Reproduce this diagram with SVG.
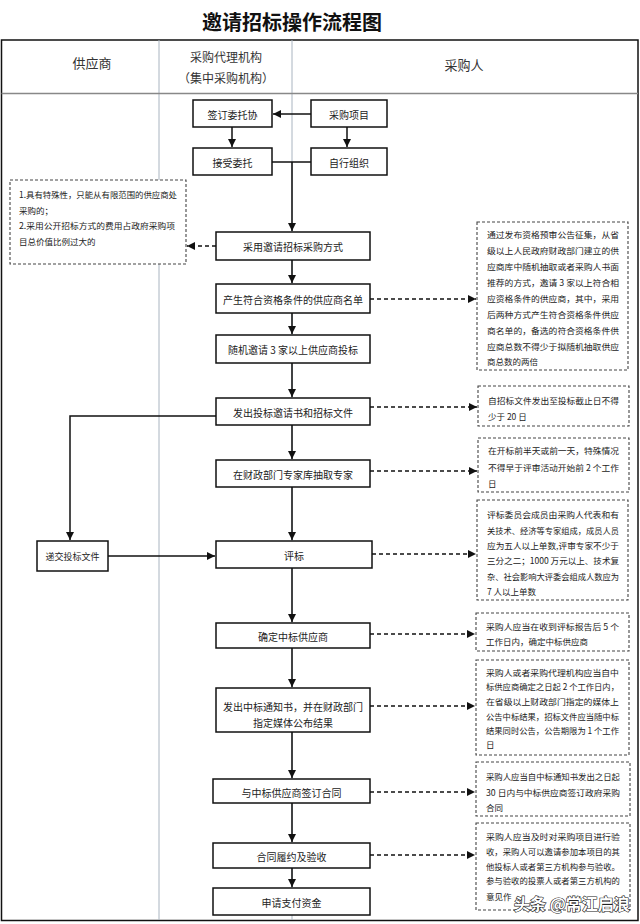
<svg xmlns="http://www.w3.org/2000/svg" width="640" height="924" viewBox="0 0 640 924">
<defs>
<style>
text{font-family:"Noto Sans CJK SC","Noto Sans",sans-serif;fill:#222}
.t{font-size:10px;text-anchor:middle;dominant-baseline:central}
.n{font-size:8.5px}
.h{font-size:13px;text-anchor:middle;dominant-baseline:central;fill:#333}
.box{fill:#fff;stroke:#111;stroke-width:1.5}
.note{fill:#fff;stroke:#444;stroke-width:1.1;stroke-dasharray:3 2}
.c{fill:none;stroke:#111;stroke-width:1.5}
.d{fill:none;stroke:#111;stroke-width:1.3;stroke-dasharray:4 3}
.div{stroke:#a9b4c0;stroke-width:1}
</style>
<marker id="a" viewBox="0 0 10 10" refX="10" refY="5" markerWidth="8" markerHeight="8" markerUnits="userSpaceOnUse" orient="auto"><path d="M0,0L10,5L0,10z" fill="#111"/></marker>
</defs>
<rect width="640" height="924" fill="#fff"/>
<text x="292" y="21" style="font-size:20px;font-weight:bold;text-anchor:middle;dominant-baseline:central;fill:#111">邀请招标操作流程图</text>
<g id="lanes">
<rect x="1.5" y="40" width="636.5" height="880.5" fill="none" stroke="#111" stroke-width="1.5"/>
<line class="div" x1="159" y1="40" x2="159" y2="920"/>
<line class="div" x1="292" y1="40" x2="292" y2="920"/>
<line x1="1.5" y1="93.5" x2="638" y2="93.5" stroke="#888" stroke-width="1.5"/>
<text class="h" x="92" y="62">供应商</text>
<text class="h" x="226" y="56" style="font-size:12px">采购代理机构</text>
<text class="h" x="226" y="77" style="font-size:12px">（集中采购机构）</text>
<text class="h" x="464" y="64">采购人</text>
</g>
<g id="connectors">
<line class="c" x1="311" y1="114" x2="273" y2="114" marker-end="url(#a)"/>
<line class="c" x1="232" y1="127" x2="232" y2="147" marker-end="url(#a)"/>
<line class="c" x1="347" y1="127" x2="347" y2="147" marker-end="url(#a)"/>
<line class="c" x1="272" y1="162" x2="311" y2="162"/>
<line class="c" x1="292" y1="162" x2="292" y2="231" marker-end="url(#a)"/>
<line class="c" x1="292" y1="260" x2="292" y2="283" marker-end="url(#a)"/>
<line class="c" x1="292" y1="313" x2="292" y2="334" marker-end="url(#a)"/>
<line class="c" x1="292" y1="363" x2="292" y2="397" marker-end="url(#a)"/>
<line class="c" x1="292" y1="425" x2="292" y2="459" marker-end="url(#a)"/>
<line class="c" x1="292" y1="487" x2="292" y2="540" marker-end="url(#a)"/>
<line class="c" x1="292" y1="568" x2="292" y2="622" marker-end="url(#a)"/>
<line class="c" x1="292" y1="648" x2="292" y2="687" marker-end="url(#a)"/>
<line class="c" x1="292" y1="732" x2="292" y2="778" marker-end="url(#a)"/>
<line class="c" x1="292" y1="803" x2="292" y2="842" marker-end="url(#a)"/>
<line class="c" x1="292" y1="868" x2="292" y2="887" marker-end="url(#a)"/>
<polyline class="c" points="216,416 70,416 70,540" marker-end="url(#a)"/>
<line class="c" x1="108" y1="556" x2="215" y2="556" marker-end="url(#a)"/>
<line class="d" x1="216" y1="246" x2="187" y2="246" marker-end="url(#a)"/>
<line class="d" x1="370" y1="299" x2="476" y2="299" marker-end="url(#a)"/>
<line class="d" x1="370" y1="407" x2="477" y2="407" marker-end="url(#a)"/>
<line class="d" x1="370" y1="471" x2="477" y2="471" marker-end="url(#a)"/>
<line class="d" x1="372" y1="554" x2="476" y2="554" marker-end="url(#a)"/>
<line class="d" x1="370" y1="634" x2="475" y2="634" marker-end="url(#a)"/>
<line class="d" x1="370" y1="706" x2="475" y2="706" marker-end="url(#a)"/>
<line class="d" x1="370" y1="792" x2="475" y2="792" marker-end="url(#a)"/>
<line class="d" x1="370" y1="855" x2="475" y2="855" marker-end="url(#a)"/>
</g>
<g id="n1"><rect class="box" x="193" y="100" width="79" height="27"/><text class="t" x="232.5" y="114">签订委托协</text></g>
<g id="n2"><rect class="box" x="311" y="100" width="76" height="27"/><text class="t" x="349" y="114">采购项目</text></g>
<g id="n3"><rect class="box" x="193" y="148" width="79" height="27"/><text class="t" x="232.5" y="162">接受委托</text></g>
<g id="n4"><rect class="box" x="311" y="148" width="76" height="27"/><text class="t" x="349" y="162">自行组织</text></g>
<g id="n5"><rect class="box" x="216" y="232" width="154" height="28"/><text class="t" x="293" y="246">采用邀请招标采购方式</text></g>
<g id="n6"><rect class="box" x="216" y="284" width="154" height="29"/><text class="t" x="293" y="299">产生符合资格条件的供应商名单</text></g>
<g id="n7"><rect class="box" x="216" y="335" width="154" height="28"/><text class="t" x="293" y="349">随机邀请 3 家以上供应商投标</text></g>
<g id="n8"><rect class="box" x="216" y="398" width="154" height="27"/><text class="t" x="293" y="412">发出投标邀请书和招标文件</text></g>
<g id="n9"><rect class="box" x="216" y="460" width="154" height="27"/><text class="t" x="293" y="474">在财政部门专家库抽取专家</text></g>
<g id="n10"><rect class="box" x="216" y="541" width="156" height="27"/><text class="t" x="294" y="555">评标</text></g>
<g id="n11"><rect class="box" x="37" y="541" width="71" height="30"/><text class="t" x="72.5" y="556" style="font-size:9px">递交投标文件</text></g>
<g id="n12"><rect class="box" x="216" y="623" width="154" height="25"/><text class="t" x="293" y="636">确定中标供应商</text></g>
<g id="n13"><rect class="box" x="216" y="688" width="154" height="44"/><text class="t" x="293" y="706">发出中标通知书，并在财政部门</text><text class="t" x="293" y="722">指定媒体公布结果</text></g>
<g id="n14"><rect class="box" x="213" y="779" width="157" height="24"/><text class="t" x="291.5" y="792">与中标供应商签订合同</text></g>
<g id="n15"><rect class="box" x="213" y="843" width="157" height="25"/><text class="t" x="291.5" y="856">合同履约及验收</text></g>
<g id="n16"><rect class="box" x="213" y="888" width="157" height="27"/><text class="t" x="291.5" y="902">申请支付资金</text></g>
<g id="note-left"><rect class="note" x="10" y="180" width="176" height="84"/>
<text class="n" x="19" y="198" textLength="158" lengthAdjust="spacingAndGlyphs">1.具有特殊性，只能从有限范围的供应商处</text>
<text class="n" x="19" y="214">采购的；</text>
<text class="n" x="19" y="229" textLength="156" lengthAdjust="spacingAndGlyphs">2.采用公开招标方式的费用占政府采购项</text>
<text class="n" x="19" y="245">目总价值比例过大的</text></g>
<g id="note1"><rect class="note" x="477" y="222" width="151" height="148"/>
<text class="n" x="487" y="238" textLength="132" lengthAdjust="spacingAndGlyphs">通过发布资格预审公告征集，从省</text>
<text class="n" x="487" y="254" textLength="132" lengthAdjust="spacingAndGlyphs">级以上人民政府财政部门建立的供</text>
<text class="n" x="487" y="270" textLength="132" lengthAdjust="spacingAndGlyphs">应商库中随机抽取或者采购人书面</text>
<text class="n" x="487" y="286" textLength="132" lengthAdjust="spacingAndGlyphs">推荐的方式，邀请 3 家以上符合相</text>
<text class="n" x="487" y="302" textLength="132" lengthAdjust="spacingAndGlyphs">应资格条件的供应商，其中，采用</text>
<text class="n" x="487" y="318" textLength="132" lengthAdjust="spacingAndGlyphs">后两种方式产生符合资格条件供应</text>
<text class="n" x="487" y="334" textLength="132" lengthAdjust="spacingAndGlyphs">商名单的，备选的符合资格条件供</text>
<text class="n" x="487" y="350" textLength="132" lengthAdjust="spacingAndGlyphs">应商总数不得少于拟随机抽取供应</text>
<text class="n" x="487" y="365">商总数的两倍</text></g>
<g id="note2"><rect class="note" x="478" y="386" width="151" height="40"/>
<text class="n" x="488" y="404" textLength="131" lengthAdjust="spacingAndGlyphs">自招标文件发出至投标截止日不得</text>
<text class="n" x="488" y="420">少于 20 日</text></g>
<g id="note3"><rect class="note" x="478" y="438" width="151" height="54"/>
<text class="n" x="488" y="454" textLength="131" lengthAdjust="spacingAndGlyphs">在开标前半天或前一天，特殊情况</text>
<text class="n" x="488" y="471" textLength="131" lengthAdjust="spacingAndGlyphs">不得早于评审活动开始前 2 个工作</text>
<text class="n" x="488" y="487">日</text></g>
<g id="note4"><rect class="note" x="477" y="500" width="151" height="100"/>
<text class="n" x="487" y="518" textLength="132" lengthAdjust="spacingAndGlyphs">评标委员会成员由采购人代表和有</text>
<text class="n" x="487" y="534" textLength="132" lengthAdjust="spacingAndGlyphs">关技术、经济等专家组成，成员人员</text>
<text class="n" x="487" y="549" textLength="132" lengthAdjust="spacingAndGlyphs">应为五人以上单数,评审专家不少于</text>
<text class="n" x="487" y="564" textLength="132" lengthAdjust="spacingAndGlyphs">三分之二；1000 万元以上、技术复</text>
<text class="n" x="487" y="580" textLength="132" lengthAdjust="spacingAndGlyphs">杂、社会影响大评委会组成人数应为</text>
<text class="n" x="487" y="595">7 人以上单数</text></g>
<g id="note5"><rect class="note" x="476" y="613" width="153" height="38"/>
<text class="n" x="486" y="630" textLength="133" lengthAdjust="spacingAndGlyphs">采购人应当在收到评标报告后 5 个</text>
<text class="n" x="486" y="645">工作日内，确定中标供应商</text></g>
<g id="note6"><rect class="note" x="476" y="660" width="153" height="95"/>
<text class="n" x="486" y="676" textLength="133" lengthAdjust="spacingAndGlyphs">采购人或者采购代理机构应当自中</text>
<text class="n" x="486" y="690" textLength="133" lengthAdjust="spacingAndGlyphs">标供应商确定之日起 2 个工作日内，</text>
<text class="n" x="486" y="705" textLength="133" lengthAdjust="spacingAndGlyphs">在省级以上财政部门指定的媒体上</text>
<text class="n" x="486" y="720" textLength="133" lengthAdjust="spacingAndGlyphs">公告中标结果，招标文件应当随中标</text>
<text class="n" x="486" y="734" textLength="133" lengthAdjust="spacingAndGlyphs">结果同时公告，公告期限为 1 个工作</text>
<text class="n" x="486" y="748">日</text></g>
<g id="note7"><rect class="note" x="476" y="762" width="154" height="54"/>
<text class="n" x="486" y="780" textLength="134" lengthAdjust="spacingAndGlyphs">采购人应当自中标通知书发出之日起</text>
<text class="n" x="486" y="796" textLength="134" lengthAdjust="spacingAndGlyphs">30 日内与中标供应商签订政府采购</text>
<text class="n" x="486" y="811">合同</text></g>
<g id="note8"><rect class="note" x="476" y="823" width="154" height="87"/>
<text class="n" x="486" y="840" textLength="134" lengthAdjust="spacingAndGlyphs">采购人应当及时对采购项目进行验</text>
<text class="n" x="486" y="855" textLength="134" lengthAdjust="spacingAndGlyphs">收，采购人可以邀请参加本项目的其</text>
<text class="n" x="486" y="870" textLength="134" lengthAdjust="spacingAndGlyphs">他投标人或者第三方机构参与验收。</text>
<text class="n" x="486" y="884" textLength="134" lengthAdjust="spacingAndGlyphs">参与验收的投票人或者第三方机构的</text>
<text class="n" x="486" y="900">意见作</text></g>
<text x="514" y="910" style="font-size:16px;fill:#fff;stroke:#222;stroke-width:1.2;paint-order:stroke;font-weight:bold">头条 @常江启浪</text>
</svg>
